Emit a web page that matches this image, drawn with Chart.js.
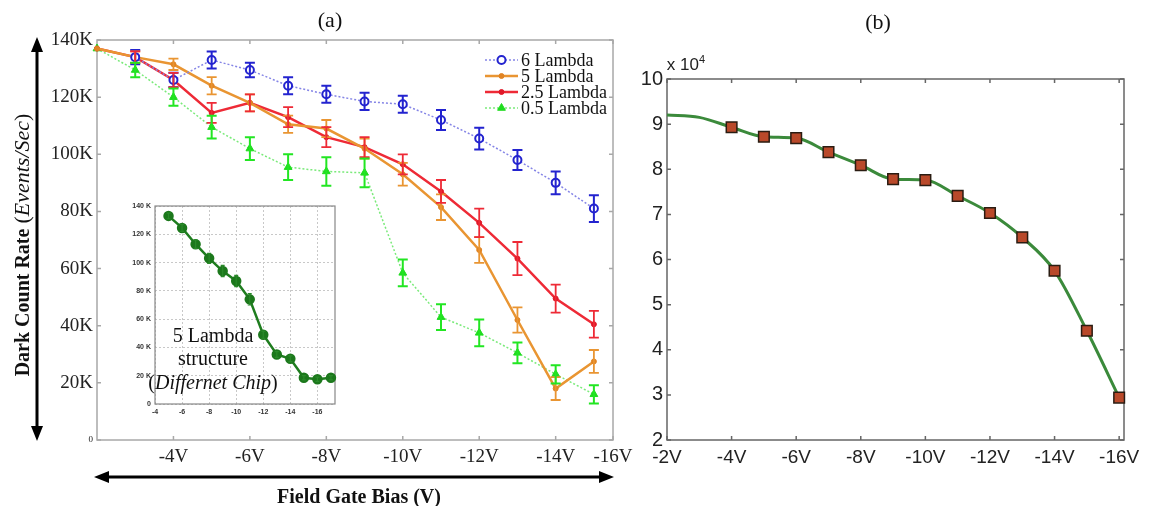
<!DOCTYPE html>
<html>
<head>
<meta charset="utf-8">
<script src="https://cdn.jsdelivr.net/npm/chart.js@4.4.1/dist/chart.umd.min.js"></script>
<style>
  body { margin: 0; background: #fff; }
  #wrap { position: relative; width: 1155px; height: 506px; overflow: hidden; background: #fff; }
  canvas { position: absolute; }
  .lbl { position: absolute; white-space: nowrap; color: #111; transform: translate(-50%, -50%); }
  .serif { font-family: "Liberation Serif", "Times New Roman", serif; }
  .sans { font-family: "Liberation Sans", Arial, sans-serif; }
  svg { position: absolute; left: 0; top: 0; }
</style>
</head>
<body>
<div id="wrap">
  <canvas id="chartA" style="left:0;top:0" width="640" height="506"></canvas>
  <canvas id="chartInset" style="left:110px;top:195px" width="235" height="230"></canvas>
  <canvas id="chartB" style="left:640px;top:0" width="515" height="506"></canvas>

  <svg width="1155" height="506">
    <line x1="37" y1="50" x2="37" y2="428" stroke="#000" stroke-width="3"/>
    <polygon points="37,37 31,52 43,52" fill="#000"/>
    <polygon points="37,441 31,426 43,426" fill="#000"/>
    <line x1="106" y1="477" x2="602" y2="477" stroke="#000" stroke-width="3"/>
    <polygon points="94,477 109,471 109,483" fill="#000"/>
    <polygon points="614,477 599,471 599,483" fill="#000"/>
  </svg>

  <div class="lbl serif" style="left:330px;top:20px;font-size:22px">(a)</div>
  <div class="lbl serif" style="left:878px;top:22px;font-size:22px">(b)</div>
  <div class="lbl serif" style="left:22px;top:245px;font-size:20px;transform:translate(-50%,-50%) rotate(-90deg)"><b>Dark Count Rate</b> <span style="font-size:22px">(<i>Events/Sec</i>)</span></div>
  <div class="lbl serif" style="left:359px;top:496px;font-size:20px;font-weight:bold">Field Gate Bias (V)</div>
  <div class="lbl serif" style="left:213px;top:335px;font-size:20px">5 Lambda</div>
  <div class="lbl serif" style="left:213px;top:358px;font-size:20px">structure</div>
  <div class="lbl serif" style="left:213px;top:382px;font-size:20px">(<i>Differnet Chip</i>)</div>
  <div class="lbl sans" style="left:686px;top:64px;font-size:17px;color:#222">x 10<sup style="font-size:11px">4</sup></div>
</div>

<script>
// ---- panel (a): dark count rate, K events/sec ----
const voltsA = [-2, -3, -4, -5, -6, -7, -8, -9, -10, -11, -12, -13, -14, -15];
const sixLambda = [null, 134, 126, 133, 129.5, 124, 121, 118.5, 117.5, 112, 105.5, 98, 90, 81];
const sixLambdaErr = [0, 2.5, 2.5, 3, 2.5, 3, 3, 3, 3, 3.5, 3.8, 3.5, 4, 4.7];
const fiveLambda = [137, 134, 131.5, 124, 118, 110.5, 109, 102, 93, 81.5, 66.5, 42, 18, 27.5];
const fiveLambdaErr = [0, 2, 2, 3, 3, 3, 3, 3.5, 4, 4.5, 4.5, 4.4, 4, 4];
const twoHalfLambda = [137, 134, 126, 114.5, 118, 113, 106, 102.5, 96.5, 87, 76, 63.5, 49.5, 40.5];
const twoHalfLambdaErr = [0, 2, 2.5, 3.5, 3, 3.5, 3.5, 3.5, 3.5, 4, 5, 5.8, 4.9, 4.7];
const halfLambda = [137, 129.5, 120, 109.5, 102, 95.5, 94, 93.5, 58.5, 43, 37.5, 30.5, 23, 16];
const halfLambdaErr = [0, 2.5, 3, 4, 4, 4.5, 5, 5, 4.7, 4.5, 4.7, 3.6, 3.2, 3.2];
const seriesNamesA = ['6 Lambda', '5 Lambda', '2.5 Lambda', '0.5 Lambda'];
const xTickValsA = [-4, -6, -8, -10, -12, -14];
const xTickLabelsA = ['-4V', '-6V', '-8V', '-10V', '-12V', '-14V', '-16V'];

// ---- inset: 5 lambda, different chip ----
const voltsInset = [-5, -6, -7, -8, -9, -10, -11, -12, -13, -14, -15, -16, -17];
const chipFiveLambda = [133, 124.5, 113, 103, 94, 87, 74, 49, 35, 32, 18.5, 17.5, 18.5];
const chipFiveLambdaErr = [2, 2.5, 3, 3.5, 4, 4, 4, 2.5, 2, 2, 1.5, 1.5, 1.5];
const xTickValsInset = [-4, -6, -8, -10, -12, -14, -16];

// ---- panel (b) ----
const voltsB = [-2, -3, -4, -5, -6, -7, -8, -9, -10, -11, -12, -13, -14, -15, -16];
const countsB = [92000, 91500, 89300, 87200, 86900, 83800, 80900, 77800, 77600, 74100, 70300, 64900, 57500, 44200, 29400];
const xTickValsB = [-2, -4, -6, -8, -10, -12, -14, -16];

const SERIF = '"Liberation Serif", "Times New Roman", serif';
const SANS = '"Liberation Sans", Arial, sans-serif';
Chart.defaults.animation = false;

const toPoints = (xs, ys) => ys.map((v, i) => ({ x: xs[i], y: v }));

function fixWidth(w) {
    return s => { s.width = w; s.paddingTop = 0; s.paddingBottom = 0; };
}
function fixHeight(h) {
    return s => { s.height = h; s.paddingLeft = 0; s.paddingRight = 0; };
}

// box around the plot with small inward ticks
const framePlugin = {
    id: 'frame',
    beforeDatasetsDraw(chart, args, opts) {
        const { ctx, chartArea: a, scales: { x, y } } = chart;
        ctx.save();
        ctx.strokeStyle = opts.color;
        ctx.lineWidth = opts.width;
        ctx.strokeRect(a.left, a.top, a.right - a.left, a.bottom - a.top);
        const t = opts.tick;
        if (t) {
            ctx.beginPath();
            x.ticks.forEach(tk => {
                const px = x.getPixelForValue(tk.value);
                ctx.moveTo(px, a.top); ctx.lineTo(px, a.top + t);
                ctx.moveTo(px, a.bottom); ctx.lineTo(px, a.bottom - t);
            });
            y.ticks.forEach(tk => {
                const py = y.getPixelForValue(tk.value);
                ctx.moveTo(a.left, py); ctx.lineTo(a.left + t, py);
                ctx.moveTo(a.right, py); ctx.lineTo(a.right - t, py);
            });
            ctx.stroke();
        }
        ctx.restore();
    }
};

// vertical error bars with caps
const errorBarPlugin = {
    id: 'errorBars',
    afterDatasetsDraw(chart) {
        const { ctx, scales: { y } } = chart;
        chart.data.datasets.forEach((ds, i) => {
            if (!ds.errors) return;
            const meta = chart.getDatasetMeta(i);
            ctx.save();
            ctx.setLineDash([]);
            ctx.strokeStyle = ds.errorColor;
            ctx.lineWidth = ds.errorWidth;
            const cap = ds.errorCap;
            meta.data.forEach((pt, j) => {
                const d = ds.data[j];
                const e = ds.errors[j];
                if (d.y == null || !e) return;
                const top = y.getPixelForValue(d.y + e);
                const bot = y.getPixelForValue(d.y - e);
                ctx.beginPath();
                ctx.moveTo(pt.x, top); ctx.lineTo(pt.x, bot);
                ctx.moveTo(pt.x - cap, top); ctx.lineTo(pt.x + cap, top);
                ctx.moveTo(pt.x - cap, bot); ctx.lineTo(pt.x + cap, bot);
                ctx.stroke();
            });
            ctx.restore();
        });
    }
};

// legend drawn inside the plot, top right
const legendPlugin = {
    id: 'innerLegend',
    afterDraw(chart, args, opts) {
        const ctx = chart.ctx;
        chart.data.datasets.forEach((ds, i) => {
            const y = opts.top + i * opts.row;
            ctx.save();
            ctx.strokeStyle = ds.borderColor;
            ctx.lineWidth = ds.borderWidth;
            ctx.setLineDash(ds.borderDash || []);
            ctx.beginPath();
            ctx.moveTo(opts.x, y);
            ctx.lineTo(opts.x + opts.len, y);
            ctx.stroke();
            ctx.setLineDash([]);
            ctx.fillStyle = ds.pointBackgroundColor;
            ctx.strokeStyle = ds.pointBorderColor;
            ctx.lineWidth = ds.pointBorderWidth;
            Chart.helpers.drawPoint(ctx, {
                pointStyle: ds.pointStyle, radius: ds.pointRadius, borderWidth: ds.pointBorderWidth, rotation: 0
            }, opts.x + opts.len / 2, y);
            ctx.fillStyle = '#111';
            ctx.font = opts.font;
            ctx.textBaseline = 'middle';
            ctx.fillText(ds.label, opts.x + opts.len + 3, y + 1);
            ctx.restore();
        });
    }
};

const whiteBg = {
    id: 'whiteBg',
    beforeDraw(chart) {
        const ctx = chart.ctx;
        ctx.save();
        ctx.fillStyle = '#fff';
        ctx.fillRect(0, 0, chart.width, chart.height);
        ctx.restore();
    }
};

function seriesA(label, values, errs, style) {
    return Object.assign({
        label: label,
        data: toPoints(voltsA, values),
        errors: errs,
        errorWidth: 1.8,
        errorCap: 5,
        fill: false,
        tension: 0,
        clip: false
    }, style);
}

// Panel (a)
new Chart(document.getElementById('chartA'), {
    type: 'line',
    data: {
        datasets: [
            seriesA(seriesNamesA[0], sixLambda, sixLambdaErr, {
                borderColor: '#8585e6', borderWidth: 1.5, borderDash: [2, 2],
                pointStyle: 'circle', pointRadius: 4, pointBorderWidth: 2,
                pointBackgroundColor: '#ffffff', pointBorderColor: '#2323cf',
                errorColor: '#2323cf', errorWidth: 2
            }),
            seriesA(seriesNamesA[1], fiveLambda, fiveLambdaErr, {
                borderColor: '#e99532', borderWidth: 2.5,
                pointStyle: 'circle', pointRadius: 2.5, pointBorderWidth: 1,
                pointBackgroundColor: '#e08424', pointBorderColor: '#e08424',
                errorColor: '#e99532'
            }),
            seriesA(seriesNamesA[2], twoHalfLambda, twoHalfLambdaErr, {
                borderColor: '#ee2a36', borderWidth: 2.5,
                pointStyle: 'circle', pointRadius: 2.5, pointBorderWidth: 1,
                pointBackgroundColor: '#e01828', pointBorderColor: '#e01828',
                errorColor: '#ee2a36'
            }),
            seriesA(seriesNamesA[3], halfLambda, halfLambdaErr, {
                borderColor: '#7aea7a', borderWidth: 1.5, borderDash: [2, 2],
                pointStyle: 'triangle', pointRadius: 4.5, pointBorderWidth: 1,
                pointBackgroundColor: '#1fdc1f', pointBorderColor: '#1fdc1f',
                errorColor: '#22e622', errorWidth: 2
            })
        ]
    },
    options: {
        responsive: false,
        layout: { padding: { left: 0, top: 40, right: 27, bottom: 0 } },
        plugins: {
            legend: { display: false },
            tooltip: { enabled: false },
            frame: { color: '#a8a8a8', width: 1.5, tick: 4 },
            innerLegend: { x: 485, top: 60, row: 16, len: 33, font: '18px ' + SERIF }
        },
        scales: {
            x: {
                type: 'linear', reverse: true, min: -15.5, max: -2,
                afterBuildTicks: s => {
                    s.ticks = xTickValsA.concat([s.min]).map(v => ({ value: v }));
                },
                afterFit: fixHeight(66),
                grid: { display: false, drawTicks: false },
                border: { display: false },
                ticks: {
                    padding: 6,
                    color: '#222',
                    font: { family: SERIF, size: 19 },
                    callback: (v, i) => xTickLabelsA[i]
                }
            },
            y: {
                type: 'linear', min: 0, max: 140,
                afterFit: fixWidth(97),
                grid: { display: false, drawTicks: false },
                border: { display: false },
                ticks: {
                    stepSize: 20,
                    padding: 4,
                    color: '#222',
                    font: c => ({ family: SERIF, size: c.tick && c.tick.value === 0 ? 9 : 19 }),
                    callback: v => (v === 0 ? '0' : v + 'K')
                }
            }
        }
    },
    plugins: [framePlugin, errorBarPlugin, legendPlugin]
});

// Inset of panel (a)
new Chart(document.getElementById('chartInset'), {
    type: 'line',
    data: {
        datasets: [{
            label: '5 Lambda (different chip)',
            data: toPoints(voltsInset, chipFiveLambda),
            errors: chipFiveLambdaErr,
            errorColor: '#2a8a2a', errorWidth: 1.2, errorCap: 2,
            borderColor: '#1f7d1f', borderWidth: 2.5,
            pointStyle: 'circle', pointRadius: 4,
            pointBackgroundColor: '#1c781c', pointBorderColor: '#1c781c',
            fill: false, tension: 0, clip: false
        }]
    },
    options: {
        responsive: false,
        layout: { padding: { left: 0, top: 11, right: 10, bottom: 0 } },
        plugins: {
            legend: { display: false },
            tooltip: { enabled: false },
            frame: { color: '#888', width: 1.2, tick: 0 }
        },
        scales: {
            x: {
                type: 'linear', reverse: true, min: -17.3, max: -4,
                afterBuildTicks: s => { s.ticks = xTickValsInset.map(v => ({ value: v })); },
                afterFit: fixHeight(21),
                grid: { color: '#c8c8c8', lineWidth: 1, drawTicks: false },
                border: { display: false, dash: [2, 2] },
                ticks: {
                    padding: 4, color: '#333',
                    font: { family: SANS, size: 7, weight: 'bold' },
                    callback: v => String(v)
                }
            },
            y: {
                type: 'linear', min: 0, max: 140,
                afterFit: fixWidth(45),
                grid: { color: '#c8c8c8', lineWidth: 1, drawTicks: false },
                border: { display: false, dash: [2, 2] },
                ticks: {
                    stepSize: 20, padding: 4, color: '#333',
                    font: { family: SANS, size: 7, weight: 'bold' },
                    callback: v => (v === 0 ? '0' : v + ' K')
                }
            }
        }
    },
    plugins: [whiteBg, framePlugin, errorBarPlugin]
});

// Panel (b)
new Chart(document.getElementById('chartB'), {
    type: 'line',
    data: {
        datasets: [{
            label: 'Dark count rate',
            data: toPoints(voltsB, countsB),
            borderColor: '#3b8a3b', borderWidth: 3,
            cubicInterpolationMode: 'monotone',
            pointStyle: 'rect',
            pointRadius: c => (c.parsed && c.parsed.x > -3.5 ? 0 : 7.5),
            pointBackgroundColor: '#b9492a', pointBorderColor: '#2a1c12', pointBorderWidth: 1.5,
            fill: false, clip: false
        }]
    },
    options: {
        responsive: false,
        layout: { padding: { left: 0, top: 79, right: 31, bottom: 0 } },
        plugins: {
            legend: { display: false },
            tooltip: { enabled: false },
            frame: { color: '#666', width: 1.5, tick: 4 }
        },
        scales: {
            x: {
                type: 'linear', reverse: true, min: -16.15, max: -2,
                afterBuildTicks: s => { s.ticks = xTickValsB.map(v => ({ value: v })); },
                afterFit: fixHeight(66),
                grid: { display: false, drawTicks: false },
                border: { display: false },
                ticks: {
                    padding: 6, color: '#222',
                    font: { family: SANS, size: 19 },
                    callback: v => v + 'V'
                }
            },
            y: {
                type: 'linear', min: 20000, max: 100000,
                afterFit: fixWidth(27),
                grid: { display: false, drawTicks: false },
                border: { display: false },
                ticks: {
                    stepSize: 10000, padding: 4, color: '#222',
                    font: { family: SANS, size: 20 },
                    callback: v => String(v / 10000)
                }
            }
        }
    },
    plugins: [framePlugin]
});
</script>
</body>
</html>
